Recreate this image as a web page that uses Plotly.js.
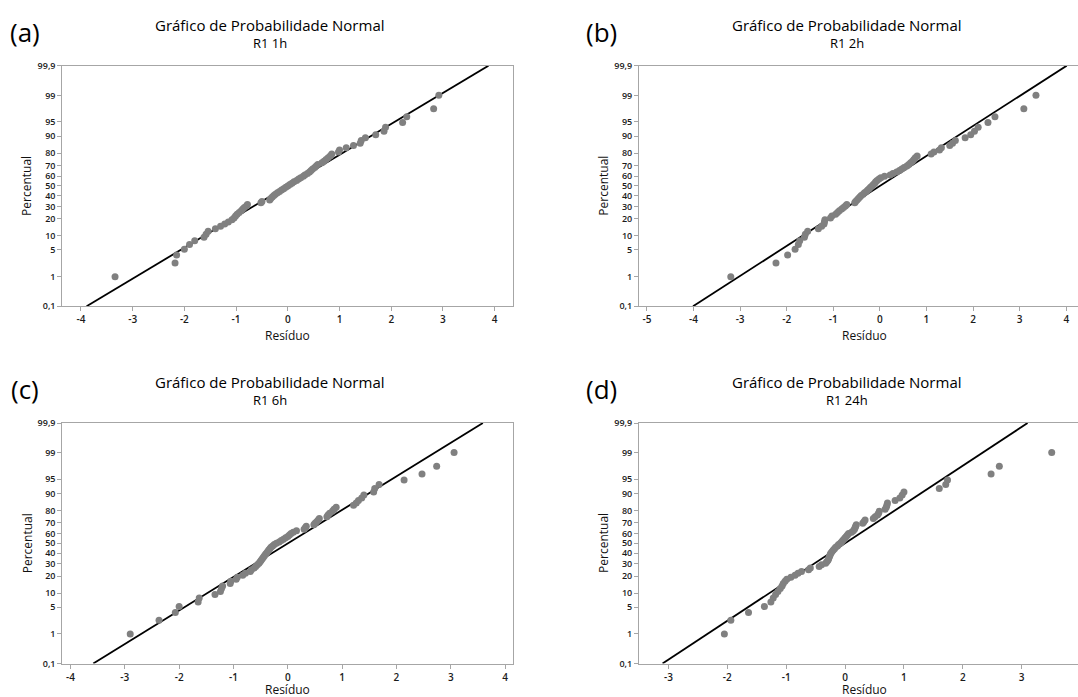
<!DOCTYPE html>
<html><head><meta charset="utf-8">
<script src="https://cdn.plot.ly/plotly-3.0.1.min.js"></script>
<style>html,body{margin:0;padding:0;overflow:hidden;background:#fff}#g{width:1120px;height:697px}</style>
</head><body><div id="g"></div><script>
// Plotting percentiles (rank positions), shared by all panels
const percentis = [0.98,2.38,3.78,5.18,6.58,7.98,9.38,10.78,12.18,13.59,14.99,16.39,17.79,19.19,20.59,21.99,23.39,24.79,26.19,27.59,28.99,30.39,31.79,33.19,34.59,35.99,37.39,38.80,40.20,41.60,43.00,44.40,45.80,47.20,48.60,50.00,51.40,52.80,54.20,55.60,57.00,58.40,59.80,61.20,62.61,64.01,65.41,66.81,68.21,69.61,71.01,72.41,73.81,75.21,76.61,78.01,79.41,80.81,82.21,83.61,85.01,86.41,87.82,89.22,90.62,92.02,93.42,94.82,96.22,97.62,99.02];

const residuosA = [-3.34,-2.18,-2.15,-2.00,-1.90,-1.80,-1.62,-1.58,-1.54,-1.40,-1.30,-1.22,-1.15,-1.08,-1.04,-1.01,-0.98,-0.94,-0.90,-0.87,-0.84,-0.80,-0.78,-0.52,-0.50,-0.35,-0.33,-0.30,-0.27,-0.24,-0.20,-0.16,-0.12,-0.08,-0.04,0.00,0.04,0.08,0.12,0.17,0.21,0.25,0.30,0.33,0.38,0.42,0.45,0.48,0.52,0.55,0.58,0.66,0.70,0.74,0.78,0.82,0.85,0.98,1.00,1.13,1.27,1.40,1.42,1.50,1.70,1.86,1.89,2.22,2.30,2.82,2.92];
const residuosB = [-3.20,-2.23,-1.98,-1.82,-1.75,-1.72,-1.62,-1.60,-1.55,-1.32,-1.25,-1.20,-1.19,-1.18,-1.06,-1.03,-0.95,-0.91,-0.87,-0.82,-0.78,-0.74,-0.71,-0.54,-0.52,-0.49,-0.46,-0.43,-0.40,-0.36,-0.33,-0.29,-0.26,-0.23,-0.20,-0.17,-0.14,-0.11,-0.09,-0.06,-0.02,0.02,0.10,0.22,0.28,0.36,0.42,0.47,0.52,0.58,0.62,0.66,0.70,0.73,0.76,0.80,1.10,1.16,1.28,1.32,1.50,1.56,1.62,1.83,1.95,2.03,2.11,2.32,2.47,3.09,3.35];
const residuosC = [-2.90,-2.37,-2.07,-2.00,-1.65,-1.63,-1.34,-1.24,-1.22,-1.20,-1.06,-1.05,-0.95,-0.93,-0.83,-0.78,-0.69,-0.67,-0.62,-0.59,-0.56,-0.53,-0.51,-0.49,-0.47,-0.45,-0.43,-0.41,-0.39,-0.37,-0.35,-0.33,-0.31,-0.28,-0.25,-0.21,-0.16,-0.12,-0.08,-0.04,0.00,0.03,0.06,0.10,0.16,0.30,0.32,0.34,0.48,0.50,0.53,0.56,0.58,0.72,0.74,0.77,0.82,0.85,0.89,1.21,1.26,1.30,1.36,1.40,1.58,1.60,1.68,2.14,2.47,2.74,3.06];
const residuosD = [-2.05,-1.94,-1.64,-1.37,-1.26,-1.22,-1.18,-1.14,-1.10,-1.07,-1.05,-1.02,-0.99,-0.92,-0.85,-0.80,-0.74,-0.62,-0.59,-0.44,-0.40,-0.33,-0.31,-0.29,-0.28,-0.27,-0.26,-0.25,-0.24,-0.22,-0.20,-0.18,-0.16,-0.13,-0.11,-0.08,-0.06,-0.04,-0.02,0.00,0.02,0.04,0.06,0.11,0.14,0.16,0.17,0.18,0.19,0.30,0.32,0.34,0.48,0.51,0.55,0.57,0.58,0.68,0.70,0.71,0.72,0.85,0.93,0.97,1.00,1.60,1.71,1.74,2.48,2.62,3.51];

// Fitted normal line: residual at 0,1 % and at 99,9 %
const retaPct = [0.1, 99.9];
const retaA = [-3.89, 3.88];
const retaB = [-4.01, 4.01];
const retaC = [-3.58, 3.59];
const retaD = [-3.10, 3.10];

const ticksPct = [0.1,1,5,10,20,30,40,50,60,70,80,90,95,99,99.9];
const ticksPctTxt = ["0,1","1","5","10","20","30","40","50","60","70","80","90","95","99","99,9"];
const ticksXA = [-4,-3,-2,-1,0,1,2,3,4];
const ticksXB = [-5,-4,-3,-2,-1,0,1,2,3,4];
const ticksXC = [-4,-3,-2,-1,0,1,2,3,4];
const ticksXD = [-3,-2,-1,0,1,2,3];

const rotulos = ["(a)","(b)","(c)","(d)"];
const subtitulos = ["R1 1h","R1 2h","R1 6h","R1 24h"];
const titulo = "Gráfico de Probabilidade Normal";
const tituloX = "Resíduo";
const tituloY = "Percentual";

function probit(p){
  const a=[-3.969683028665376e+01,2.209460984245205e+02,-2.759285104469687e+02,1.383577518672690e+02,-3.066479806614716e+01,2.506628277459239e+00];
  const b=[-5.447609879822406e+01,1.615858368580409e+02,-1.556989798598866e+02,6.680131188771972e+01,-1.328068155288572e+01];
  const c=[-7.784894002430293e-03,-3.223964580411365e-01,-2.400758277161838e+00,-2.549732539343734e+00,4.374664141464968e+00,2.938163982698783e+00];
  const d=[7.784695709041462e-03,3.224671290700398e-01,2.445134137142996e+00,3.754408661907416e+00];
  const pl=0.02425, ph=1-pl; let q,r;
  if(p<pl){q=Math.sqrt(-2*Math.log(p));return (((((c[0]*q+c[1])*q+c[2])*q+c[3])*q+c[4])*q+c[5])/((((d[0]*q+d[1])*q+d[2])*q+d[3])*q+1);}
  if(p<=ph){q=p-0.5;r=q*q;return (((((a[0]*r+a[1])*r+a[2])*r+a[3])*r+a[4])*r+a[5])*q/(((((b[0]*r+b[1])*r+b[2])*r+b[3])*r+b[4])*r+1);}
  q=Math.sqrt(-2*Math.log(1-p));return -(((((c[0]*q+c[1])*q+c[2])*q+c[3])*q+c[4])*q+c[5])/((((d[0]*q+d[1])*q+d[2])*q+d[3])*q+1);
}
const z = arr => arr.map(v => probit(v/100));

const W = 1120, H = 697;
const px = x => x / W, py = y => 1 - y / H;
const FONT = '"Open Sans", "Noto Sans", sans-serif';
const GRAY = '#a6a6a6';

const series = [residuosA, residuosB, residuosC, residuosD];
const retas = [retaA, retaB, retaC, retaD];
const ticksX = [ticksXA, ticksXB, ticksXC, ticksXD];
const rangesX = [[-4.36,4.36],[-5.17,4.51],[-4.15,4.15],[-3.50,4.16]];
const offX = [0, 576.7, 0, 576.7];
const offY = [0, 0, 357.3, 357.3];
const xTitleY = [335, 335, 689.5, 689.5];
const yRange = [probit(0.001), probit(0.999)];

const traces = [], annotations = [];
const layout = {
  width: W, height: H, margin: {l:0, r:0, t:0, b:0},
  paper_bgcolor: '#fff', plot_bgcolor: '#fff', showlegend: false,
  font: {family: FONT, color: '#1a1a1a'}, hovermode: false
};

for (let i = 0; i < 4; i++) {
  const sfx = i === 0 ? '' : String(i + 1);
  const xa = 'x' + sfx, ya = 'y' + sfx;
  const left = 62.3 + offX[i], right = left + 451;
  const top = 65.7 + offY[i], bottom = top + 240.5;
  layout['xaxis' + sfx] = {
    domain: [px(left), px(right)], range: rangesX[i], anchor: ya,
    tickvals: ticksX[i], ticktext: ticksX[i].map(v => String(v)),
    ticks: 'outside', ticklen: 4, tickcolor: GRAY, tickwidth: 1,
    showline: true, mirror: true, linecolor: GRAY, linewidth: 1,
    showgrid: false, zeroline: false,
    tickfont: {family: FONT, size: 10, color: '#1a1a1a', weight: 600}
  };
  layout['yaxis' + sfx] = {
    domain: [py(bottom), py(top)], range: yRange, anchor: xa,
    tickvals: z(ticksPct), ticktext: ticksPctTxt,
    ticks: 'outside', ticklen: 4, tickcolor: GRAY, tickwidth: 1,
    showline: true, mirror: true, linecolor: GRAY, linewidth: 1,
    showgrid: false, zeroline: false,
    tickfont: {family: FONT, size: 9, color: '#1a1a1a', weight: 600}
  };
  traces.push({
    type: 'scatter', mode: 'lines', x: retas[i], y: z(retaPct),
    xaxis: xa, yaxis: ya, line: {color: '#000', width: 1.8}
  });
  traces.push({
    type: 'scatter', mode: 'markers', x: series[i], y: z(percentis),
    xaxis: xa, yaxis: ya, cliponaxis: false,
    marker: {color: '#808080', size: 7, line: {width: 0}}
  });
  const cx = 270 + offX[i];
  annotations.push({xref:'paper', yref:'paper', x: px(25 + offX[i]), y: py(32 + offY[i]), text: rotulos[i], showarrow:false, xanchor:'center', yanchor:'middle', font:{size:26, color:'#000'}});
  annotations.push({xref:'paper', yref:'paper', x: px(cx), y: py(25 + offY[i]), text: titulo, showarrow:false, xanchor:'center', yanchor:'middle', font:{size:15, color:'#000'}});
  annotations.push({xref:'paper', yref:'paper', x: px(cx), y: py(43 + offY[i]), text: subtitulos[i], showarrow:false, xanchor:'center', yanchor:'middle', font:{size:13, color:'#000'}});
  annotations.push({xref:'paper', yref:'paper', x: px(27 + offX[i]), y: py((top + bottom) / 2), text: tituloY, textangle: -90, showarrow:false, xanchor:'center', yanchor:'middle', font:{size:12, color:'#111'}});
  annotations.push({xref:'paper', yref:'paper', x: px((left + right) / 2 - 0.5), y: py(xTitleY[i]), text: tituloX, showarrow:false, xanchor:'center', yanchor:'middle', font:{size:12, color:'#111'}});
}
layout.annotations = annotations;
Plotly.newPlot('g', traces, layout, {staticPlot: true, displayModeBar: false});
</script></body></html>
